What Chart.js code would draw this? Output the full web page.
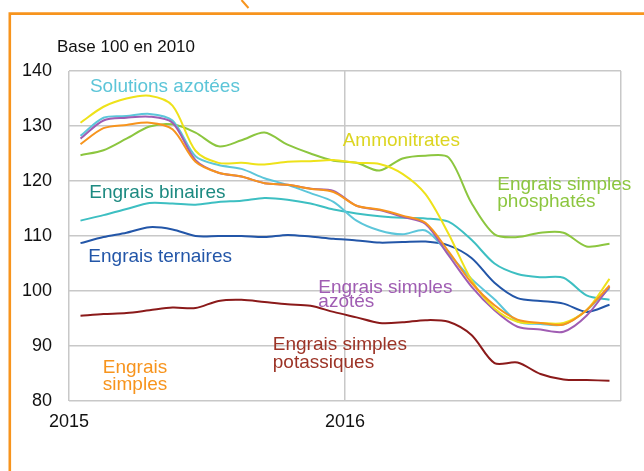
<!DOCTYPE html>
<html>
<head>
<meta charset="utf-8">
<script src="https://cdn.jsdelivr.net/npm/chart.js@4"></script>
<style>
  body { margin: 0; background: #fff; }
  canvas { display: block; }
</style>
</head>
<body>
<canvas id="chart" width="644" height="471"></canvas>
<script>
// monthly indices, base 100 in 2010
const months = [
  "2015-01", "2015-02", "2015-03", "2015-04", "2015-05", "2015-06",
  "2015-07", "2015-08", "2015-09", "2015-10", "2015-11", "2015-12",
  "2016-01", "2016-02", "2016-03", "2016-04", "2016-05", "2016-06",
  "2016-07", "2016-08", "2016-09", "2016-10", "2016-11", "2016-12",
];
const yearLabels = ["2015", "2016"];
const yTicks = [80, 90, 100, 110, 120, 130, 140];

const engraisSimples = [126.7, 129.6, 130.2, 130.6, 129.4, 123.5, 121.5, 120.8, 119.6, 119.3, 118.6, 118.0,
  115.5, 114.8, 113.7, 112.4, 107.2, 101.5, 97.4, 94.8, 94.2, 93.9, 96.5, 101.0];
const simplesAzotes = [127.7, 131.0, 131.5, 131.7, 130.6, 123.8, 121.5, 120.8, 119.6, 119.3, 118.6, 118.2,
  115.5, 114.7, 113.5, 112.2, 106.5, 100.8, 96.5, 93.5, 93.0, 92.6, 95.5, 100.8];
const solutionsAzotees = [128.2, 131.5, 131.8, 132.2, 131.0, 124.5, 122.9, 122.2, 120.5, 119.3, 117.8, 116.2,
  112.8, 111.0, 110.3, 111.0, 106.8, 102.2, 98.5, 94.5, 94.0, 93.9, 96.5, 100.5];
const ammonitrates = [130.6, 133.5, 135.0, 135.5, 133.7, 125.5, 123.3, 123.3, 123.0, 123.5, 123.6, 123.8,
  123.3, 123.1, 121.3, 117.6, 110.4, 102.0, 96.8, 94.4, 94.2, 94.2, 96.5, 102.2];
const simplesPhosphates = [124.7, 125.6, 127.7, 129.9, 130.3, 128.8, 126.3, 127.4, 128.8, 126.6, 125.0, 123.7,
  123.3, 121.9, 124.1, 124.6, 124.3, 116.0, 110.3, 109.8, 110.6, 110.6, 108.1, 108.6];
const binaires = [112.8, 113.8, 114.9, 116.0, 115.9, 115.7, 116.2, 116.4, 116.9, 116.6, 115.9, 114.8,
  114.1, 113.6, 113.3, 113.2, 112.6, 109.3, 105.0, 103.1, 102.5, 102.4, 99.2, 98.4];
const ternaires = [108.7, 109.8, 110.6, 111.6, 111.2, 110.0, 110.0, 110.0, 109.8, 110.2, 109.9, 109.5,
  109.2, 108.8, 108.9, 109.0, 108.3, 106.0, 101.5, 98.7, 98.2, 97.7, 96.2, 97.5];
const simplesPotassiques = [95.5, 95.8, 96.0, 96.5, 97.0, 96.9, 98.2, 98.4, 98.0, 97.6, 97.3, 96.2,
  95.2, 94.2, 94.3, 94.7, 94.4, 92.0, 86.9, 87.0, 84.9, 83.9, 83.8, 83.7];

// label text: [lines, x in months since Jan 2015, y of first baseline, colour, align, line height]
const seriesLabels = [
  [["Solutions azotées"], 0.91, 136.2, "#5cc5d8", "left", 18],
  [["Ammonitrates"], 11.9, 126.4, "#dcd520", "left", 18],
  [["Engrais simples", "phosphatés"], 18.62, 118.3, "#8cc63f", "left", 17],
  [["Engrais binaires"], 0.88, 117.0, "#1d8a81", "left", 18],
  [["Engrais ternaires"], 0.84, 105.2, "#2356a8", "left", 18],
  [["Engrais simples", "azotés"], 10.84, 99.6, "#a05db3", "left", 14],
  [["Engrais simples", "potassiques"], 8.86, 89.2, "#9c3326", "left", 18],
  [["Engrais", "simples"], 2.87, 85.1, "#f7941d", "center", 16.7],
];

function monthPos(m) {
  const parts = m.split("-");
  return (Number(parts[0]) - 2015) * 12 + Number(parts[1]) - 1 + 0.5;
}

function toPoints(values) {
  return values.map((v, i) => ({ x: monthPos(months[i]), y: v }));
}

function line(data, color) {
  return {
    data: toPoints(data),
    borderColor: color,
    borderWidth: 2,
    pointRadius: 0,
    tension: 0.3,
    fill: false,
  };
}

const framePlugin = {
  id: "frame",
  afterDraw(chart) {
    const ctx = chart.ctx;
    const xs = chart.scales.x;
    const ys = chart.scales.y;
    ctx.save();
    ctx.strokeStyle = "#f7941d";
    ctx.lineWidth = 2.6;
    ctx.beginPath();
    ctx.moveTo(9.8, 471);
    ctx.lineTo(9.8, 13.6);
    ctx.lineTo(644, 13.6);
    ctx.stroke();
    ctx.lineWidth = 2;
    ctx.beginPath();
    ctx.moveTo(241.5, 0);
    ctx.lineTo(248.5, 8);
    ctx.stroke();

    ctx.fillStyle = "#111";
    ctx.font = "17px 'Liberation Sans', Arial, sans-serif";
    ctx.textAlign = "left";
    ctx.textBaseline = "alphabetic";
    ctx.fillText("Base 100 en 2010", 57, 52);

    ctx.font = "19px 'Liberation Sans', Arial, sans-serif";
    seriesLabels.forEach((l) => {
      const px = xs.getPixelForValue(l[1]);
      const py = ys.getPixelForValue(l[2]);
      ctx.fillStyle = l[3];
      ctx.textAlign = l[4];
      l[0].forEach((t, k) => ctx.fillText(t, px, py + k * l[5]));
    });
    ctx.restore();
  },
};

const chart = new Chart(document.getElementById("chart").getContext("2d"), {
  type: "line",
  plugins: [framePlugin],
  data: {
    datasets: [
      line(engraisSimples, "#f7941d"),
      line(ammonitrates, "#eee21a"),
      line(simplesAzotes, "#a05db3"),
      line(solutionsAzotees, "#5cc6da"),
      line(binaires, "#3dbfc2"),
      line(ternaires, "#2356a8"),
      line(simplesPhosphates, "#8cc63f"),
      line(simplesPotassiques, "#8b1a1a"),
    ],
  },
  options: {
    responsive: false,
    animation: false,
    layout: { padding: { top: 71, right: 23, bottom: 0, left: 0 } },
    plugins: {
      legend: { display: false },
      tooltip: { enabled: false },
    },
    scales: {
      x: {
        type: "linear",
        min: 0,
        max: 24,
        afterFit: (scale) => { scale.height = 70; },
        afterBuildTicks: (scale) => {
          scale.ticks = [{ value: 0 }, { value: 12 }, { value: 24 }];
        },
        ticks: {
          autoSkip: false,
          maxRotation: 0,
          padding: 10,
          color: "#111",
          font: { family: "'Liberation Sans', Arial, sans-serif", size: 18 },
          callback: (v) => (v === 0 ? yearLabels[0] : v === 12 ? yearLabels[1] : ""),
        },
        grid: { color: "#c8c8c8", lineWidth: 1.5, drawTicks: false },
        border: { display: false },
      },
      y: {
        min: yTicks[0],
        max: yTicks[yTicks.length - 1],
        afterFit: (scale) => { scale.width = 69; },
        afterBuildTicks: (scale) => {
          scale.ticks = yTicks.map((v) => ({ value: v }));
        },
        ticks: {
          padding: 17,
          color: "#111",
          font: { family: "'Liberation Sans', Arial, sans-serif", size: 18 },
        },
        grid: { color: "#c8c8c8", lineWidth: 1.5, drawTicks: false },
        border: { display: false },
      },
    },
  },
});
</script>
</body>
</html>
